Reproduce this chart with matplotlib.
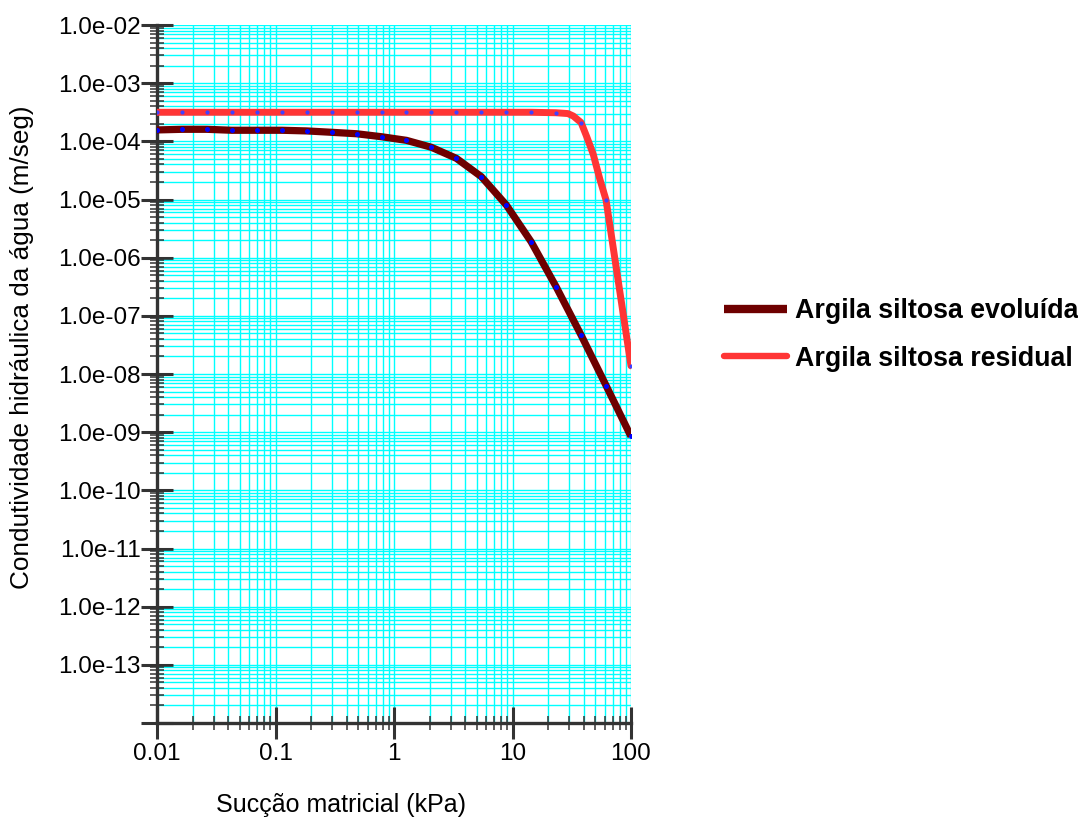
import numpy as np
import matplotlib
matplotlib.use('Agg')
import matplotlib.pyplot as plt
from matplotlib.ticker import LogLocator, FuncFormatter, NullFormatter

# Data -----------------------------------------------------------------------------------------------------------------
succao = [0.01, 0.01624, 0.02637, 0.04281, 0.06952, 0.1129, 0.1833, 0.2976, 0.4833, 0.7848,
          1.274, 2.069, 3.360, 5.456, 8.859, 14.38, 23.36, 37.93, 61.58, 100.0]

k_evoluida = [1.57e-4, 1.61e-4, 1.61e-4, 1.55e-4, 1.55e-4, 1.55e-4, 1.51e-4, 1.43e-4, 1.35e-4, 1.20e-4,
              1.04e-4, 7.9e-5, 5.1e-5, 2.47e-5, 8.07e-6, 1.87e-6, 3.15e-7, 4.66e-8, 6.34e-9, 8.43e-10]

k_residual = [3.16e-4, 3.16e-4, 3.16e-4, 3.16e-4, 3.16e-4, 3.16e-4, 3.16e-4, 3.16e-4, 3.16e-4, 3.16e-4,
              3.16e-4, 3.16e-4, 3.16e-4, 3.16e-4, 3.16e-4, 3.16e-4, 3.10e-4, 2.10e-4, 9.8e-6, 1.38e-8]

# extra points read along the bend of the residual curve
succao_res_bend = [29.4, 32.6, 42.3, 48.0, 54.7]
k_res_bend = [3.0e-4, 2.72e-4, 1.2e-4, 6.0e-5, 2.2e-5]

labels = ['Argila siltosa evoluída', 'Argila siltosa residual']

# Figure ---------------------------------------------------------------------------------------------------------------
plt.rcParams['font.family'] = ['Liberation Sans', 'DejaVu Sans']
fig = plt.figure(figsize=(10.78, 8.21), dpi=100)
ax = fig.add_axes([157 / 1078, 1 - 723 / 821, (631 - 157) / 1078, (723 - 25) / 821])

ax.set_xscale('log')
ax.set_yscale('log')
ax.set_xlim(0.01, 100)
ax.set_ylim(1e-14, 1e-2)

# grid
ax.grid(True, which='both', color='#00FFFF', lw=1.0)
ax.set_axisbelow(True)

# curves
res_x = succao + succao_res_bend
res_y = k_residual + k_res_bend
order = np.argsort(res_x)
res_x = np.array(res_x)[order]
res_y = np.array(res_y)[order]

ax.plot(succao, k_evoluida, color='#6E0000', lw=5.2, solid_capstyle='butt', solid_joinstyle='round',
        label=labels[0], zorder=3)
ax.plot(res_x, res_y, color='#FF3535', lw=5.0, solid_capstyle='round', solid_joinstyle='round',
        label=labels[1], zorder=3)
ax.plot(succao, k_evoluida, ls='none', marker='o', ms=3.6, color='#0000FF', mec='none', zorder=4)
ax.plot(succao, k_residual, ls='none', marker='o', ms=3.0, color='#4040FF', mec='none', zorder=4)

# axes / ticks
for s in ['top', 'right']:
    ax.spines[s].set_visible(False)
for s in ['left', 'bottom']:
    ax.spines[s].set_color('#333333')
    ax.spines[s].set_linewidth(2.4)

ax.yaxis.set_major_locator(LogLocator(base=10, numticks=20))
ax.yaxis.set_minor_locator(LogLocator(base=10, subs=np.arange(2, 10), numticks=200))
ax.xaxis.set_major_locator(LogLocator(base=10, numticks=20))
ax.xaxis.set_minor_locator(LogLocator(base=10, subs=np.arange(2, 10), numticks=200))

ax.yaxis.set_major_formatter(FuncFormatter(lambda v, p: '' if v < 3e-14 else '%.1e' % v))
ax.xaxis.set_major_formatter(FuncFormatter(lambda v, p: '%g' % v))
ax.xaxis.set_minor_formatter(NullFormatter())
ax.yaxis.set_minor_formatter(NullFormatter())

ax.tick_params(which='major', direction='inout', length=23, width=2.2, color='#333333',
               labelsize=17.5, pad=0)
ax.tick_params(which='minor', direction='inout', length=10.5, width=1.1, color='#333333')
ax.tick_params(axis='x', which='major', pad=3)

# labels
fig.text(22 / 1078, 1 - 347 / 821, 'Condutividade hidráulica da água (m/seg)', rotation=90,
         ha='center', va='center', fontsize=18.8)
fig.text(341 / 1078, 1 - 805 / 821, 'Sucção matricial (kPa)', ha='center', va='center', fontsize=18)

# legend
leg = ax.legend(loc='center left', bbox_to_anchor=(700 / 1078, 1 - 335 / 821), bbox_transform=fig.transFigure,
                frameon=False, prop={'weight': 'bold', 'size': 19.3}, handlelength=2.35,
                handletextpad=0.3, labelspacing=0.8)
leg.get_lines()[0].set_linewidth(6.0)
leg.get_lines()[1].set_linewidth(4.6)

fig.savefig('out.png', dpi=100)
